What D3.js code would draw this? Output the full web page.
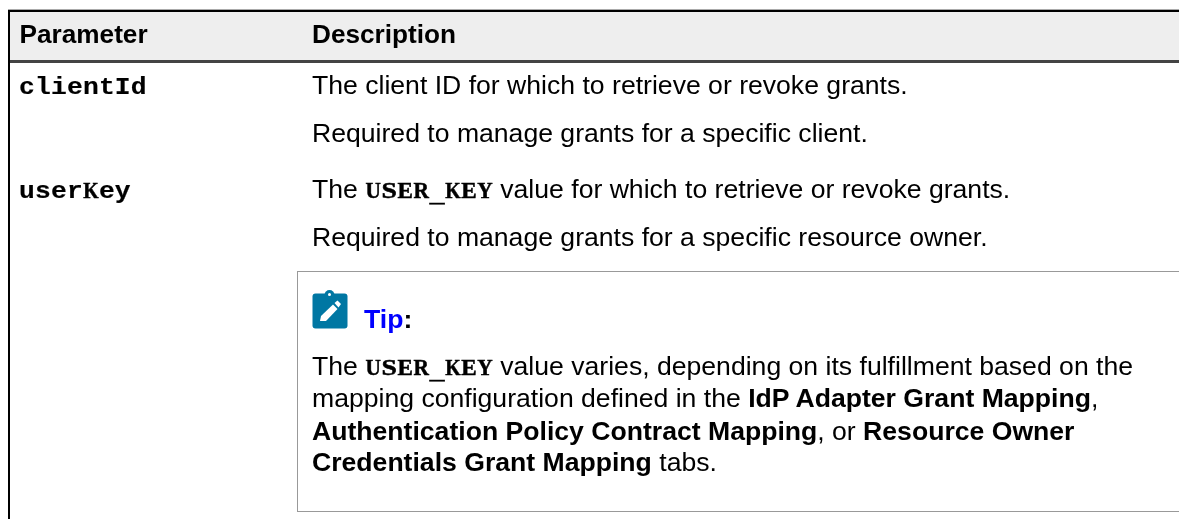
<!DOCTYPE html>
<html><head><meta charset="utf-8">
<script src="https://cdn.jsdelivr.net/npm/d3@7/dist/d3.min.js"></script>
<style>html,body{margin:0;padding:0;background:#fff;overflow:hidden}svg{display:block}text{filter:blur(0.3px)}</style>
</head><body><svg id="c" width="1179" height="519"></svg>
<script>
const headers = ["Parameter", "Description"];
const paramNames = ["clientId", "userKey"];
// each run: [text, kind]  kind: r regular, b bold, m code, l link
const bodyLines = [
  [["The client ID for which to retrieve or revoke grants.","r"]],
  [["Required to manage grants for a specific client.","r"]],
  [["The ","r"],["USER_KEY","m"],[" value for which to retrieve or revoke grants.","r"]],
  [["Required to manage grants for a specific resource owner.","r"]],
  [["Tip","l"],[":","b"]],
  [["The ","r"],["USER_KEY","m"],[" value varies, depending on its fulfillment based on the","r"]],
  [["mapping configuration defined in the ","r"],["IdP Adapter Grant Mapping","b"],[",","r"]],
  [["Authentication Policy Contract Mapping","b"],[", or ","r"],["Resource Owner","b"]],
  [["Credentials Grant Mapping","b"],[" tabs.","r"]]
];

// layout
const W = 1179, H = 519, FS = 26.6, CELL = 15.96;
const lineX = i => i === 4 ? 364 : 312;
const lineY = [94, 142, 198, 246, 328, 375, 407, 440, 471];
const paramY = [94, 198];
const headerX = [19.5, 312];
const svg = d3.select("#c");
const sans = '"Liberation Sans", Arial, sans-serif';
const rect = (x,y,w,h,f) => svg.append("rect").attr("x",x).attr("y",y).attr("width",w).attr("height",h).attr("fill",f);

rect(9,11,W-9,49,"#eeeeee");
rect(8,9,W-8,1,"#aaaaaa");
rect(8,10,W-8,2,"#000000");
rect(8,60,W-8,3,"#444444");
rect(8,10,2,H-10,"#000000");

svg.selectAll("text.h").data(headers).join("text").attr("class","h")
  .attr("x",(d,i)=>headerX[i]).attr("y",43)
  .attr("font-family",sans).attr("font-weight",700).attr("font-size",26.2).attr("fill","#000").text(d=>d);

// tip box
svg.append("rect").attr("x",297.5).attr("y",271.5).attr("width",W).attr("height",240)
  .attr("fill","#fff").attr("stroke","#999");

// icon
const ic = svg.append("g").attr("transform","translate(312,290)");
ic.append("rect").attr("x",0.5).attr("y",3.5).attr("width",35).attr("height",35).attr("rx",3).attr("fill","#0077a3");
ic.append("circle").attr("cx",17.5).attr("cy",5).attr("r",5).attr("fill","#0077a3");
ic.append("circle").attr("cx",17.5).attr("cy",4.5).attr("r",1.5).attr("fill","#fff");
ic.append("path").attr("d",d3.line()([[8,31],[9,26],[21,14.5],[25.5,19],[14,31]])+"Z").attr("fill","#fff");
ic.append("path").attr("d",d3.line()([[22.5,13],[25.5,10.5],[29,14],[26.5,17.5]])+"Z").attr("fill","#fff");

// code text: a slab, wide, low face drawn cell by cell on a fixed advance
function codeRun(str, x, y) {
  Array.from(str).forEach((ch,i) => {
    const cx = x + CELL*(i+0.5);
    const serifCap = /[A-HJ-Z]/.test(ch);
    const t = svg.append("text").attr("text-anchor","middle").attr("fill","#000")
      .attr("stroke","#000").attr("font-weight",700).text(ch);
    if (serifCap) {
      t.attr("font-family",'"Liberation Serif", serif').attr("font-size",22.5).attr("stroke-width",0.5);
      const sx = 15.4 / t.node().getComputedTextLength();
      t.attr("transform",`translate(${cx},${y}) scale(${sx},1)`);
    } else if (ch === "_") {
      t.attr("font-family",'"Liberation Mono", monospace').attr("font-size",FS).attr("stroke-width",0.6)
       .attr("transform",`translate(${cx},${y+3}) scale(0.95,1)`);
    } else {
      t.attr("font-family",'"Liberation Mono", monospace').attr("font-size",FS).attr("stroke-width",0.2)
       .attr("transform",`translate(${cx},${y}) scale(0.99,0.92)`);
    }
  });
  return CELL*str.length;
}

paramNames.forEach((d,i) => codeRun(d, 19, paramY[i]));

const kinds = {
  r:{w:400,c:"#000"},
  b:{w:700,c:"#000"},
  l:{w:700,c:"#0000ff"}
};
bodyLines.forEach((runs,i) => {
  let x = lineX(i);
  runs.forEach(([str,k]) => {
    if (k === "m") { x += codeRun(str, x, lineY[i]); return; }
    const t = svg.append("text").attr("x",x).attr("y",lineY[i]).style("white-space","pre")
      .attr("font-family",sans).attr("font-size",FS)
      .attr("font-weight",kinds[k].w).attr("fill",kinds[k].c).text(str);
    x += t.node().getComputedTextLength();
  });
});
</script></body></html>
